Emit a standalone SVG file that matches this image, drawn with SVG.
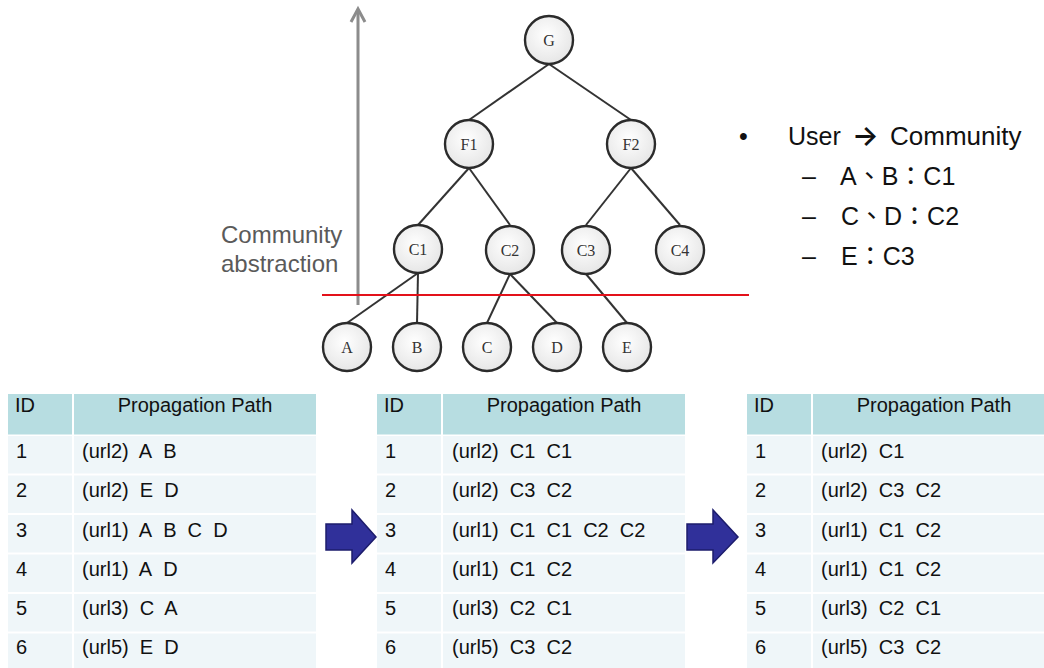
<svg xmlns="http://www.w3.org/2000/svg" width="1044" height="668" viewBox="0 0 1044 668">
  <defs>
    <radialGradient id="nodeFill" cx="0.45" cy="0.4" r="0.65">
      <stop offset="0" stop-color="#ffffff"/>
      <stop offset="1" stop-color="#e4e4e4"/>
    </radialGradient>
    <style>
      .node circle { fill: url(#nodeFill); stroke: #2b2b2b; stroke-width: 2.4; }
      .node text { font-family: "Liberation Serif", serif; font-size: 16px; fill: #333; text-anchor: middle; }
      .edge { stroke: #333; stroke-width: 2; fill: none; }
      .hdr { fill: #b7dde1; }
      .row { fill: #eff6f9; }
      .tt { font-family: "Liberation Sans", Arial, sans-serif; font-size: 20px; fill: #111; }
      .mid { text-anchor: middle; }
      .bul { font-family: "Liberation Sans", "Noto Sans CJK TC", sans-serif; font-size: 25px; fill: #111; }
      .bigArrow { fill: #30309a; stroke: #1c1c6c; stroke-width: 1.5; stroke-linejoin: miter; }
    </style>
  </defs>

  <rect width="1044" height="668" fill="#ffffff"/>

  <!-- abstraction axis -->
  <g id="axis">
    <line x1="358" y1="10" x2="358" y2="305" stroke="#8c8c8c" stroke-width="3"/>
    <polyline points="351,22 358,9 365,22" fill="none" stroke="#8c8c8c" stroke-width="3" stroke-linejoin="miter"/>
    <text x="221" y="243" font-family="Liberation Sans, Arial, sans-serif" font-size="24" fill="#5a5a5a">Community</text>
    <text x="221" y="272" font-family="Liberation Sans, Arial, sans-serif" font-size="24" fill="#5a5a5a">abstraction</text>
  </g>

  <!-- tree edges -->
  <g id="connectors">
    <line class="edge" x1="549" y1="64" x2="469" y2="120"/>
    <line class="edge" x1="549" y1="64" x2="631" y2="120"/>
    <line class="edge" x1="469" y1="168" x2="418" y2="225"/>
    <line class="edge" x1="469" y1="168" x2="510" y2="225"/>
    <line class="edge" x1="631" y1="168" x2="586" y2="225"/>
    <line class="edge" x1="631" y1="168" x2="680" y2="225"/>
    <line class="edge" x1="418" y1="273" x2="347" y2="323"/>
    <line class="edge" x1="418" y1="273" x2="417" y2="323"/>
    <line class="edge" x1="510" y1="274" x2="487" y2="323"/>
    <line class="edge" x1="510" y1="274" x2="557" y2="323"/>
    <line class="edge" x1="586" y1="274" x2="627" y2="323"/>
  </g>

  <!-- cut line -->
  <line id="cut" x1="322" y1="295" x2="749" y2="295" stroke="#e3111a" stroke-width="2.2"/>

  <!-- tree nodes -->
  <g id="node-G" class="node"><circle cx="549" cy="40" r="24"/><text x="549" y="46">G</text></g>
  <g id="node-F1" class="node"><circle cx="469" cy="144" r="24"/><text x="469" y="150">F1</text></g>
  <g id="node-F2" class="node"><circle cx="631" cy="144" r="24"/><text x="631" y="150">F2</text></g>
  <g id="node-C1" class="node"><circle cx="418" cy="249" r="24"/><text x="418" y="255">C1</text></g>
  <g id="node-C2" class="node"><circle cx="510" cy="250" r="24"/><text x="510" y="256">C2</text></g>
  <g id="node-C3" class="node"><circle cx="586" cy="250" r="24"/><text x="586" y="256">C3</text></g>
  <g id="node-C4" class="node"><circle cx="680" cy="250" r="24"/><text x="680" y="256">C4</text></g>
  <g id="node-A" class="node"><circle cx="347" cy="347" r="24"/><text x="347" y="353">A</text></g>
  <g id="node-B" class="node"><circle cx="417" cy="347" r="24"/><text x="417" y="353">B</text></g>
  <g id="node-C" class="node"><circle cx="487" cy="347" r="24"/><text x="487" y="353">C</text></g>
  <g id="node-D" class="node"><circle cx="557" cy="347" r="24"/><text x="557" y="353">D</text></g>
  <g id="node-E" class="node"><circle cx="627" cy="347" r="24"/><text x="627" y="353">E</text></g>

  <!-- mapping list -->
  <g id="mapping" class="bul">
    <text x="739" y="145">•</text>
    <text x="788" y="145">User</text>
    <text x="852" y="145" font-family="Inter, DejaVu Sans, sans-serif" font-weight="600" font-size="28">→</text>
    <text x="890" y="145" font-size="26">Community</text>
    <text x="802" y="185">–</text>
    <text x="840" y="185">A、B：C1</text>
    <text x="802" y="225">–</text>
    <text x="841" y="225">C、D：C2</text>
    <text x="802" y="265">–</text>
    <text x="841" y="265">E：C3</text>
  </g>

  <!-- table: user paths -->
  <g id="table-users" class="tt">
    <rect class="hdr" x="8" y="394" width="64" height="40.5"/>
    <rect class="hdr" x="74" y="394" width="242" height="40.5"/>
    <rect class="row" x="8" y="436" width="64" height="37.5"/><rect class="row" x="74" y="436" width="242" height="37.5"/>
    <rect class="row" x="8" y="475.5" width="64" height="37.5"/><rect class="row" x="74" y="475.5" width="242" height="37.5"/>
    <rect class="row" x="8" y="515" width="64" height="37.5"/><rect class="row" x="74" y="515" width="242" height="37.5"/>
    <rect class="row" x="8" y="554.5" width="64" height="37.5"/><rect class="row" x="74" y="554.5" width="242" height="37.5"/>
    <rect class="row" x="8" y="594" width="64" height="37.5"/><rect class="row" x="74" y="594" width="242" height="37.5"/>
    <rect class="row" x="8" y="633.5" width="64" height="40"/><rect class="row" x="74" y="633.5" width="242" height="40"/>
    <text x="15" y="412">ID</text>
    <text class="mid" x="195" y="412">Propagation Path</text>
    <text x="16" y="458">1</text><text x="82" y="458">(url2)&#160; A&#160; B</text>
    <text x="16" y="497">2</text><text x="82" y="497">(url2)&#160; E&#160; D</text>
    <text x="16" y="537">3</text><text x="82" y="537">(url1)&#160; A&#160; B&#160; C&#160; D</text>
    <text x="16" y="576">4</text><text x="82" y="576">(url1)&#160; A&#160; D</text>
    <text x="16" y="615">5</text><text x="82" y="615">(url3)&#160; C&#160; A</text>
    <text x="16" y="654">6</text><text x="82" y="654">(url5)&#160; E&#160; D</text>
  </g>

  <!-- step arrow 1 -->
  <path id="step-1" class="bigArrow" d="M326,524 H352 V510 L376,537 L352,563 V550 H326 Z"/>

  <!-- table: community paths -->
  <g id="table-communities" class="tt">
    <rect class="hdr" x="377" y="394" width="64" height="40.5"/>
    <rect class="hdr" x="443" y="394" width="242" height="40.5"/>
    <rect class="row" x="377" y="436" width="64" height="37.5"/><rect class="row" x="443" y="436" width="242" height="37.5"/>
    <rect class="row" x="377" y="475.5" width="64" height="37.5"/><rect class="row" x="443" y="475.5" width="242" height="37.5"/>
    <rect class="row" x="377" y="515" width="64" height="37.5"/><rect class="row" x="443" y="515" width="242" height="37.5"/>
    <rect class="row" x="377" y="554.5" width="64" height="37.5"/><rect class="row" x="443" y="554.5" width="242" height="37.5"/>
    <rect class="row" x="377" y="594" width="64" height="37.5"/><rect class="row" x="443" y="594" width="242" height="37.5"/>
    <rect class="row" x="377" y="633.5" width="64" height="40"/><rect class="row" x="443" y="633.5" width="242" height="40"/>
    <text x="384" y="412">ID</text>
    <text class="mid" x="564" y="412">Propagation Path</text>
    <text x="385" y="458">1</text><text x="452" y="458">(url2)&#160; C1&#160; C1</text>
    <text x="385" y="497">2</text><text x="452" y="497">(url2)&#160; C3&#160; C2</text>
    <text x="385" y="537">3</text><text x="452" y="537">(url1)&#160; C1&#160; C1&#160; C2&#160; C2</text>
    <text x="385" y="576">4</text><text x="452" y="576">(url1)&#160; C1&#160; C2</text>
    <text x="385" y="615">5</text><text x="452" y="615">(url3)&#160; C2&#160; C1</text>
    <text x="385" y="654">6</text><text x="452" y="654">(url5)&#160; C3&#160; C2</text>
  </g>

  <!-- step arrow 2 -->
  <path id="step-2" class="bigArrow" d="M687,524 H713 V510 L738,537 L713,563 V550 H687 Z"/>

  <!-- table: merged community paths -->
  <g id="table-merged" class="tt">
    <rect class="hdr" x="747" y="394" width="64" height="40.5"/>
    <rect class="hdr" x="813" y="394" width="242" height="40.5"/>
    <rect class="row" x="747" y="436" width="64" height="37.5"/><rect class="row" x="813" y="436" width="242" height="37.5"/>
    <rect class="row" x="747" y="475.5" width="64" height="37.5"/><rect class="row" x="813" y="475.5" width="242" height="37.5"/>
    <rect class="row" x="747" y="515" width="64" height="37.5"/><rect class="row" x="813" y="515" width="242" height="37.5"/>
    <rect class="row" x="747" y="554.5" width="64" height="37.5"/><rect class="row" x="813" y="554.5" width="242" height="37.5"/>
    <rect class="row" x="747" y="594" width="64" height="37.5"/><rect class="row" x="813" y="594" width="242" height="37.5"/>
    <rect class="row" x="747" y="633.5" width="64" height="40"/><rect class="row" x="813" y="633.5" width="242" height="40"/>
    <text x="754" y="412">ID</text>
    <text class="mid" x="934" y="412">Propagation Path</text>
    <text x="755" y="458">1</text><text x="821" y="458">(url2)&#160; C1</text>
    <text x="755" y="497">2</text><text x="821" y="497">(url2)&#160; C3&#160; C2</text>
    <text x="755" y="537">3</text><text x="821" y="537">(url1)&#160; C1&#160; C2</text>
    <text x="755" y="576">4</text><text x="821" y="576">(url1)&#160; C1&#160; C2</text>
    <text x="755" y="615">5</text><text x="821" y="615">(url3)&#160; C2&#160; C1</text>
    <text x="755" y="654">6</text><text x="821" y="654">(url5)&#160; C3&#160; C2</text>
  </g>
</svg>
